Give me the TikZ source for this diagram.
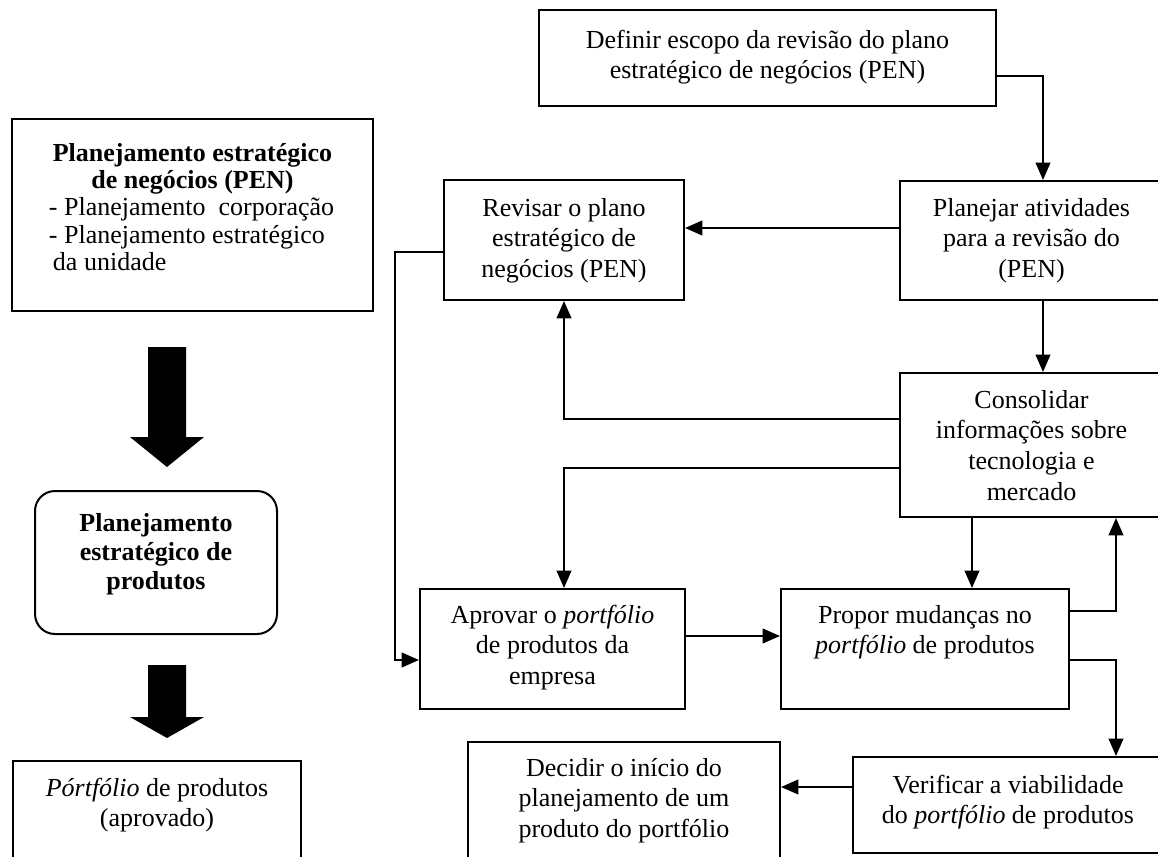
\documentclass[tikz,border=0pt]{standalone}
\usepackage{fontspec}
\setmainfont{Liberation Serif}
\usetikzlibrary{arrows.meta}
\newdimen\pxu \pxu=0.75pt
\newcommand{\bxt}[4]{\parbox[t][#2\pxu][t]{#1\pxu}{\centering\rule{0pt}{#3\pxu}#4\par}}
\tikzset{
  bx/.style={draw, line width=1.5pt, inner sep=0pt, anchor=north west, font=\fontsize{19.5}{23}\selectfont},
  arr/.style={line width=1.3pt, -{Triangle[length=13pt,width=11pt]}},
  blk/.style={fill=black},
}
\begin{document}
\begin{tikzpicture}[x=0.75pt,y=-0.75pt]
\useasboundingbox (0,0) rectangle (1158,857);
\clip (0,0) rectangle (1158,857);

% left column
\node[bx, font=\fontsize{19.5}{20.6}\selectfont] (pen) at (11,118)
  {\parbox[t][192\pxu][t]{361\pxu}{{\centering\bfseries\rule{0pt}{42\pxu}Planejamento estratégico\\de negócios (PEN)\par}\raggedright\leftskip=37\pxu\relax - Planejamento~ corporação\\- Planejamento estratégico\\\hspace*{4\pxu}da unidade\par}};
\node[bx, rounded corners=15pt, font=\fontsize{19.5}{21.75}\selectfont\bfseries] (psp) at (34,490)
  {\bxt{242}{143}{40}{Planejamento\\estratégico de\\produtos}};
\node[bx] (port) at (12,760) {\bxt{288}{150}{35}{\textit{Pórtfólio} de produtos\\(aprovado)}};

\fill[blk] (148,347) -- (186,347) -- (186,437) -- (204,437) -- (167,467) -- (130,437) -- (148,437) -- cycle;
\fill[blk] (148,665) -- (186,665) -- (186,717) -- (204,717) -- (167,738) -- (130,717) -- (148,717) -- cycle;

% right part
\node[bx] (def) at (538,9) {\bxt{457}{96}{38}{Definir escopo da revisão do plano\\estratégico de negócios (PEN)}};
\node[bx] (plan) at (899,180) {\bxt{263}{119}{35}{Planejar atividades\\para a revisão do\\(PEN)}};
\node[bx] (revi) at (443,179) {\bxt{240}{120}{36}{Revisar o plano\\estratégico de\\negócios (PEN)}};
\node[bx] (cons) at (899,372) {\bxt{263}{144}{35}{Consolidar\\informações sobre\\tecnologia e\\mercado}};
\node[bx] (apro) at (419,588) {\bxt{265}{120}{34}{Aprovar o \textit{portfólio}\\de produtos da\\empresa}};
\node[bx] (prop) at (780,588) {\bxt{288}{120}{34}{Propor mudanças no\\\textit{portfólio} de produtos}};
\node[bx] (veri) at (852,756) {\bxt{310}{96}{36}{Verificar a viabilidade\\do \textit{portfólio} de produtos}};
\node[bx] (deci) at (467,741) {\bxt{312}{150}{34}{Decidir o início do\\planejamento de um\\produto do portfólio}};

% connectors
\draw[arr] (def.east |- 0,76) -| (plan.north -| 1043,0);
\draw[arr] (plan.west |- 0,228) -- (revi.east |- 0,228);
\draw[arr] (plan.south -| 1043,0) -- (cons.north -| 1043,0);
\draw[arr] (cons.west |- 0,419) -| (revi.south -| 564,0);
\draw[arr] (cons.west |- 0,468) -| (apro.north -| 564,0);
\draw[arr] (cons.south -| 972,0) -- (prop.north -| 972,0);
\draw[arr] (prop.east |- 0,611) -| (cons.south -| 1116,0);
\draw[arr] (prop.east |- 0,660) -| (veri.north -| 1116,0);
\draw[arr] (veri.west |- 0,787) -- (deci.east |- 0,787);
\draw[arr] (apro.east |- 0,636) -- (prop.west |- 0,636);
\draw[arr] (revi.west |- 0,252) -- (395,252) |- (apro.west |- 0,660);
\end{tikzpicture}
\end{document}
